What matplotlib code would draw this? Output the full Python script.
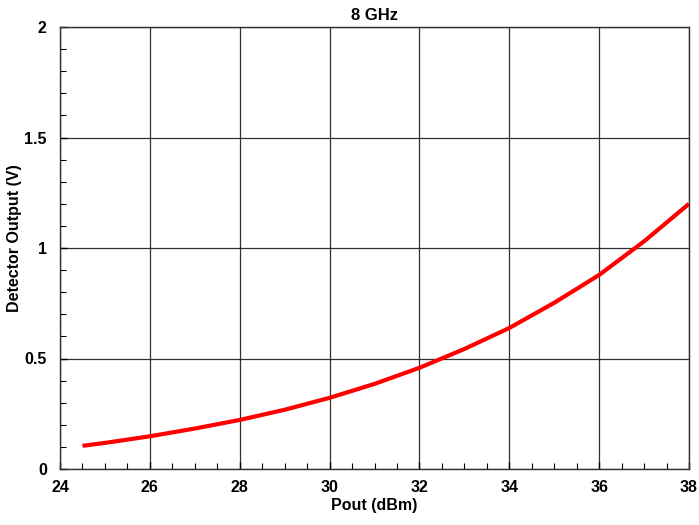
import matplotlib
matplotlib.use("Agg")
import matplotlib.pyplot as plt
from matplotlib.ticker import MultipleLocator

plt.rcParams['font.family'] = ['Liberation Sans', 'DejaVu Sans']
plt.rcParams['font.weight'] = 'bold'

pout_dbm = [24.5, 25, 26, 27, 28, 29, 30, 31, 32, 33, 34, 35, 36, 37, 38]
detector_v = [0.105, 0.118, 0.148, 0.183, 0.222, 0.268, 0.322, 0.385, 0.458,
              0.543, 0.638, 0.752, 0.878, 1.03, 1.2]

fig = plt.figure(figsize=(6.99, 5.25), dpi=100)
ax = fig.add_axes([60 / 699, 1 - 469 / 525, 629 / 699, 442 / 525])

ax.plot(pout_dbm, detector_v, color='#ff0000', lw=3.0, solid_capstyle='butt', zorder=3)

ax.set_xlim(24, 38)
ax.set_ylim(0, 2)
ax.xaxis.set_major_locator(MultipleLocator(2))
ax.xaxis.set_minor_locator(MultipleLocator(0.5))
ax.yaxis.set_major_locator(MultipleLocator(0.5))
ax.yaxis.set_minor_locator(MultipleLocator(0.1))
ax.set_yticks([0, 0.5, 1, 1.5, 2])
ax.set_yticklabels(['0', '0.5', '1', '1.5', '2'])

ax.grid(True, which='major', color='#303030', lw=0.9)
ax.tick_params(which='both', direction='in', top=False, right=False, labelsize=11.5)
ax.tick_params(which='major', length=5, width=1)
ax.tick_params(which='minor', length=4, width=0.8)
ax.tick_params(axis='x', which='major', pad=8)
ax.tick_params(axis='y', which='major', pad=9.5)
for lab in ax.get_xticklabels() + ax.get_yticklabels():
    lab.set_fontweight('bold')
for s in ax.spines.values():
    s.set_color('#303030')
    s.set_linewidth(1.0)

ax.set_title('8 GHz', fontsize=12, fontweight='bold', pad=5)
ax.set_xlabel('Pout (dBm)', fontsize=11.5, fontweight='bold', labelpad=2)
ax.set_ylabel('Detector Output (V)', fontsize=11.5, fontweight='bold',
              labelpad=2, y=0.522)

fig.savefig('out.png', dpi=100)
